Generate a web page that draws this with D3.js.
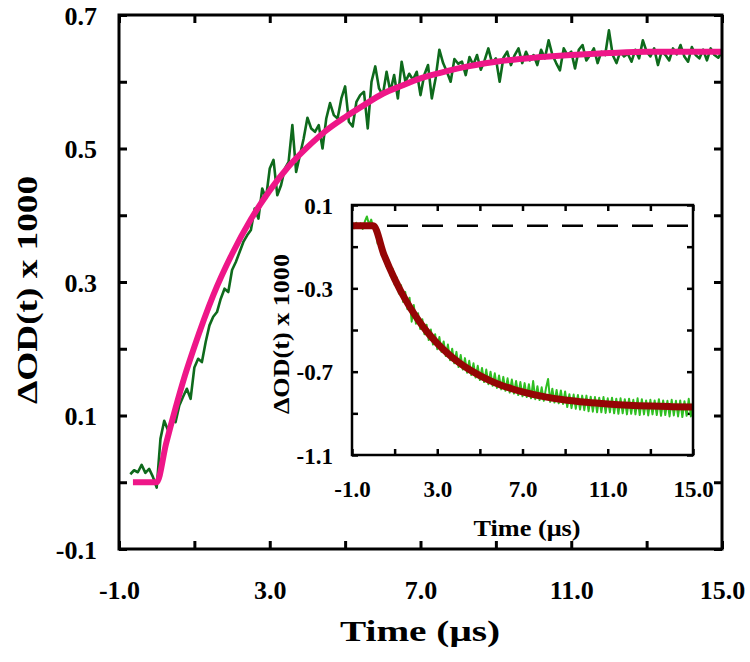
<!DOCTYPE html>
<html><head><meta charset="utf-8">
<script src="https://cdn.jsdelivr.net/npm/d3@7"></script>
<style>html,body{margin:0;padding:0;background:#fff;} svg{display:block;}</style>
</head><body>
<svg id="chart" width="750" height="662"></svg>
<script>
// ---------- DATA ----------
const mainXTicks = [-1, 1, 3, 5, 7, 9, 11, 13, 15];
const mainXTickLabels = ["-1.0", "", "3.0", "", "7.0", "", "11.0", "", "15.0"];
const mainYTicks = [-0.1, 0, 0.1, 0.2, 0.3, 0.4, 0.5, 0.6, 0.7];
const mainYTickLabels = ["-0.1", "", "0.1", "", "0.3", "", "0.5", "", "0.7"];
const insetXTicks = [-1, 1, 3, 5, 7, 9, 11, 13, 15];
const insetXTickLabels = ["-1.0", "", "3.0", "", "7.0", "", "11.0", "", "15.0"];
const insetYTicks = [-1.1, -0.9, -0.7, -0.5, -0.3, -0.1, 0.1];
const insetYTickLabels = ["-1.1", "", "-0.7", "", "-0.3", "", "0.1"];

// main measured signal, sampled every 0.1 us starting at -0.7 us
const mainStartTime = -0.7, mainTimeStep = 0.1;
const mainSignal = [
  0.012,0.018,0.015,0.026,0.014,0.020,0.008,-0.008,0.065,0.092,
  0.078,0.095,0.090,0.115,0.128,0.140,0.125,0.172,0.185,0.180,
  0.210,0.235,0.248,0.255,0.275,0.290,0.285,0.318,0.330,0.345,
  0.360,0.370,0.378,0.410,0.395,0.440,0.425,0.470,0.483,0.430,
  0.445,0.470,0.480,0.535,0.465,0.490,0.515,0.546,0.530,0.525,
  0.535,0.500,0.545,0.568,0.550,0.545,0.575,0.593,0.540,0.533,
  0.570,0.580,0.585,0.530,0.600,0.623,0.590,0.580,0.615,0.585,
  0.610,0.575,0.630,
  0.600,0.612,0.603,0.615,0.580,0.610,0.625,0.575,0.605,0.648,
  0.628,0.615,0.600,0.634,0.627,0.630,0.610,0.637,0.625,0.640,
  0.618,0.632,0.650,0.628,0.635,0.600,0.636,0.645,0.625,0.640,
  0.650,0.628,0.645,0.632,0.640,0.625,0.648,0.635,0.662,0.640,
  0.628,0.617,0.650,0.640,0.645,0.620,0.648,0.655,0.632,0.640,
  0.650,0.628,0.645,0.640,0.677,0.640,0.628,0.645,0.638,0.642,
  0.630,0.648,0.635,0.662,0.645,0.638,0.650,0.625,0.646,0.640,
  0.632,0.650,0.641,0.655,0.638,0.630,0.652,0.640,0.635,0.648,
  0.632,0.650,0.640,0.636,0.645
];
// main fitted curve
const mainFitTime = [-0.63, 0, 0.25, 0.5, 0.75, 1, 1.5, 2, 2.5, 3, 3.5, 4, 4.5, 5, 5.5, 6, 6.5, 7, 7.5, 8, 9, 10, 11, 12, 13, 14, 15];
const mainFitValue = [0, 0, 0.058, 0.111, 0.160, 0.203, 0.280, 0.342, 0.394, 0.437, 0.473, 0.502, 0.527, 0.547, 0.565, 0.582, 0.594, 0.605, 0.613, 0.620, 0.630, 0.636, 0.640, 0.643, 0.645, 0.645, 0.645];

// inset measured signal, sampled every 0.1 us starting at -1.0 us
const insetStartTime = -1.0, insetTimeStep = 0.1;
const insetSignal = [
  0.010,-0.012,0.015,-0.008,0.012,-0.015,0.020,0.045,0.005,0.030,
  -0.010,
  0.005,-0.085,-0.060,-0.140,-0.112,-0.192,-0.162,-0.238,-0.205,-0.282,
  -0.248,-0.325,-0.285,-0.365,-0.318,-0.400,-0.345,-0.460,-0.380,-0.470,
  -0.420,-0.495,-0.448,-0.520,-0.475,-0.548,-0.498,-0.570,-0.520,-0.592,
  -0.534,-0.605,-0.555,-0.625,-0.570,-0.645,-0.590,-0.660,-0.605,-0.678,
  -0.620,-0.690,-0.635,-0.705,-0.648,-0.716,-0.660,-0.728,-0.672,-0.740,
  -0.682,-0.750,-0.690,-0.760,-0.700,-0.768,-0.708,-0.778,-0.718,-0.785,
  -0.725,-0.792,-0.732,-0.800,-0.738,-0.805,-0.745,-0.812,-0.750,-0.818,
  -0.755,-0.822,-0.760,-0.828,-0.745,-0.832,-0.770,-0.836,-0.775,-0.840,
  -0.780,-0.735,-0.845,-0.782,-0.848,-0.788,-0.852,-0.790,-0.855,-0.795,
  -0.870,-0.808,-0.875,-0.810,-0.878,-0.812,-0.882,-0.815,-0.885,-0.815,
  -0.890,-0.820,-0.892,-0.822,-0.895,-0.825,-0.895,-0.822,-0.898,-0.828,
  -0.895,-0.825,-0.900,-0.830,-0.902,-0.828,-0.900,-0.832,-0.905,-0.830,
  -0.902,-0.835,-0.905,-0.828,-0.908,-0.832,-0.905,-0.838,-0.910,-0.835,
  -0.905,-0.838,-0.908,-0.832,-0.912,-0.838,-0.908,-0.840,-0.915,-0.835,
  -0.910,-0.840,-0.915,-0.838,-0.918,-0.842,-0.912,-0.830,-0.915,-0.845
];
// inset fitted curve
const insetFitTime = [-1, 0, 0.5, 1, 1.5, 2, 2.5, 3, 3.5, 4, 4.5, 5, 5.5, 6, 6.5, 7, 8, 9, 10, 11, 12, 13, 14, 15];
const insetFitValue = [0, 0, -0.139, -0.255, -0.353, -0.436, -0.506, -0.564, -0.613, -0.655, -0.690, -0.719, -0.744, -0.765, -0.782, -0.797, -0.820, -0.836, -0.847, -0.855, -0.861, -0.865, -0.868, -0.870];
const insetBaseline = [0];

// ---------- DRAW ----------
const svg = d3.select("#chart");
const FONT = "Liberation Serif";

function panel(cfg) {
  const g = svg.append("g");
  const x = d3.scaleLinear().domain(cfg.xDomain).range([cfg.left, cfg.right]);
  const y = d3.scaleLinear().domain(cfg.yDomain).range([cfg.bottom, cfg.top]);
  if (cfg.fill) {
    g.append("rect").attr("x", cfg.left).attr("y", cfg.top)
      .attr("width", cfg.right - cfg.left).attr("height", cfg.bottom - cfg.top)
      .attr("fill", "#fff");
  }
  const styleAxis = (sel) => {
    sel.select(".domain").remove();
    sel.selectAll(".tick line").attr("stroke", "#000").attr("stroke-width", cfg.tickW);
    sel.selectAll("text").attr("fill", "#000")
      .attr("font-family", FONT).attr("font-weight", "bold").attr("font-size", cfg.tickFont);
  };
  const ax = g.append("g").attr("transform", `translate(0,${cfg.bottom})`)
    .call(d3.axisBottom(x).tickValues(cfg.xTicks).tickFormat((d, i) => cfg.xLabels[i]).tickSizeInner(-cfg.tickLen).tickSizeOuter(0));
  styleAxis(ax);
  ax.selectAll("text").attr("y", cfg.xLabelBase).attr("dy", 0);
  const axT = g.append("g").attr("transform", `translate(0,${cfg.top})`)
    .call(d3.axisTop(x).tickValues(cfg.xTicks).tickFormat("").tickSizeInner(-cfg.tickLen).tickSizeOuter(0));
  styleAxis(axT);
  const ay = g.append("g").attr("transform", `translate(${cfg.left},0)`)
    .call(d3.axisLeft(y).tickValues(cfg.yTicks).tickFormat((d, i) => cfg.yLabels[i]).tickSizeInner(-cfg.tickLen).tickSizeOuter(0));
  styleAxis(ay);
  ay.selectAll("text").attr("x", -cfg.yLabelPad).attr("dy", "0.35em");
  const ayR = g.append("g").attr("transform", `translate(${cfg.right},0)`)
    .call(d3.axisRight(y).tickValues(cfg.yTicks).tickFormat("").tickSizeInner(-cfg.tickLen).tickSizeOuter(0));
  styleAxis(ayR);
  return {g, x, y};
}

// main panel
const M = panel({
  left: 119, right: 722, top: 15, bottom: 549,
  xDomain: [-1, 15], yDomain: [-0.1, 0.7],
  xTicks: mainXTicks, xLabels: mainXTickLabels,
  yTicks: mainYTicks, yLabels: mainYTickLabels,
  tickLen: 8, tickW: 3, tickFont: 26, xLabelBase: 50, yLabelPad: 22
});
const mainLine = d3.line().x(d => M.x(d[0])).y(d => M.y(d[1]));
M.g.append("path")
  .datum(mainSignal.map((v, i) => [mainStartTime + i * mainTimeStep, v]))
  .attr("d", mainLine).attr("fill", "none").attr("stroke", "#0e6a1c")
  .attr("stroke-width", 2.6).attr("stroke-linejoin", "round");
M.g.append("path")
  .datum(mainFitTime.map((t, i) => [t, mainFitValue[i]]))
  .attr("d", mainLine.curve(d3.curveMonotoneX)).attr("fill", "none").attr("stroke", "#ee1688")
  .attr("stroke-width", 6).attr("stroke-linejoin", "round");
M.g.append("rect").attr("x", 119).attr("y", 15).attr("width", 603).attr("height", 534)
  .attr("fill", "none").attr("stroke", "#000").attr("stroke-width", 3);

// inset
const I = panel({
  left: 352, right: 693, top: 205, bottom: 455, fill: true,
  xDomain: [-1, 15], yDomain: [-1.1, 0.1],
  xTicks: insetXTicks, xLabels: insetXTickLabels,
  yTicks: insetYTicks, yLabels: insetYTickLabels,
  tickLen: 6, tickW: 2.5, tickFont: 23, xLabelBase: 42, yLabelPad: 19
});
const insetLine = d3.line().x(d => I.x(d[0])).y(d => I.y(d[1]));
I.g.append("line")
  .attr("x1", I.x(-1)).attr("x2", I.x(15))
  .attr("y1", I.y(insetBaseline[0])).attr("y2", I.y(insetBaseline[0]))
  .attr("stroke", "#000").attr("stroke-width", 2.5).attr("stroke-dasharray", "21,14");
I.g.append("path")
  .datum(insetSignal.map((v, i) => [insetStartTime + i * insetTimeStep, v]))
  .attr("d", insetLine).attr("fill", "none").attr("stroke", "#2fbf22")
  .attr("stroke-width", 2).attr("stroke-linejoin", "round");
I.g.append("path")
  .datum(insetFitTime.map((t, i) => [t, insetFitValue[i]]))
  .attr("d", insetLine.curve(d3.curveMonotoneX)).attr("fill", "none").attr("stroke", "#950505")
  .attr("stroke-width", 7).attr("stroke-linejoin", "round");
I.g.append("rect").attr("x", 352).attr("y", 205).attr("width", 341).attr("height", 250)
  .attr("fill", "none").attr("stroke", "#000").attr("stroke-width", 2.5);

// titles
function title(txt, x, y, size, rot, len) {
  const t = svg.append("text").attr("font-family", FONT).attr("font-weight", "bold")
    .attr("font-size", size).attr("text-anchor", "middle").attr("fill", "#000")
    .attr("transform", `translate(${x},${y}) rotate(${rot})`).text(txt);
  if (len) t.attr("textLength", len).attr("lengthAdjust", "spacingAndGlyphs");
  return t;
}
title("Time (\u03bcs)", 420, 641, 29, 0, 160);
title("\u0394OD(t) x 1000", 37, 290, 29, -90, 228);
title("Time (\u03bcs)", 527, 536, 23, 0, 107);
title("\u0394OD(t) x 1000", 289, 334, 24, -90, 160);
</script>
</body></html>
